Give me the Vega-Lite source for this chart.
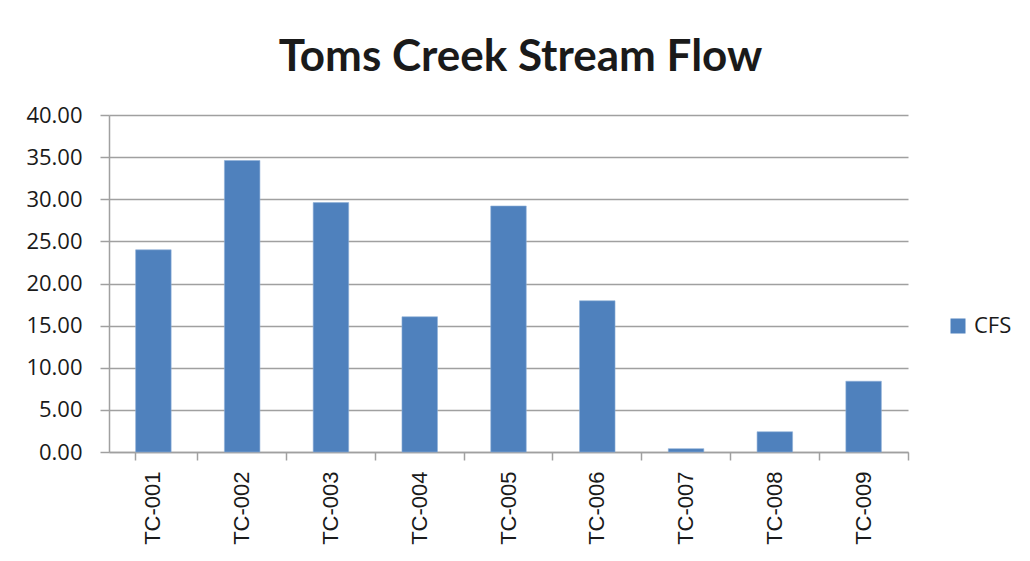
{
  "$schema": "https://vega.github.io/schema/vega-lite/v6.json",
  "width": 799,
  "height": 337,
  "autosize": {"type": "none"},
  "padding": {"left": 109, "top": 115, "right": 122, "bottom": 109},
  "background": "white",
  "title": {
    "text": "Toms Creek Stream Flow",
    "font": "Lato",
    "fontSize": 44,
    "fontWeight": "bold",
    "color": "#1a1a1a",
    "anchor": "middle",
    "dx": 12,
    "offset": 24
  },
  "data": {
    "values": [
      {"site": "TC-001", "cfs": 24.0, "series": "CFS"},
      {"site": "TC-002", "cfs": 34.6, "series": "CFS"},
      {"site": "TC-003", "cfs": 29.6, "series": "CFS"},
      {"site": "TC-004", "cfs": 16.05, "series": "CFS"},
      {"site": "TC-005", "cfs": 29.2, "series": "CFS"},
      {"site": "TC-006", "cfs": 17.95, "series": "CFS"},
      {"site": "TC-007", "cfs": 0.4, "series": "CFS"},
      {"site": "TC-008", "cfs": 2.4, "series": "CFS"},
      {"site": "TC-009", "cfs": 8.4, "series": "CFS"}
    ]
  },
  "mark": {"type": "bar", "stroke": "#8fb0d9", "strokeWidth": 0.6},
  "encoding": {
    "x": {
      "field": "site",
      "type": "nominal",
      "sort": null,
      "scale": {"paddingInner": 0.6, "paddingOuter": 0.3},
      "axis": {
        "title": null,
        "bandPosition": 1.75,
        "tickExtra": true,
        "labelAngle": -90,
        "labelAlign": "right",
        "labelBaseline": "middle",
        "labelFont": "Liberation Sans",
        "labelFontSize": 22,
        "labelColor": "#1a1a1a",
        "labelPadding": 11,
        "tickSize": 8,
        "tickColor": "#a0a0a0",
        "tickWidth": 1.5,
        "domainColor": "#a0a0a0",
        "domainWidth": 1.5,
        "grid": false
      }
    },
    "y": {
      "field": "cfs",
      "type": "quantitative",
      "scale": {"domain": [0, 40], "nice": false},
      "axis": {
        "title": null,
        "values": [0, 5, 10, 15, 20, 25, 30, 35, 40],
        "format": ".2f",
        "labelFont": "Open Sans",
        "labelFontSize": 22,
        "labelColor": "#1a1a1a",
        "labelPadding": 18,
        "tickSize": 9,
        "tickColor": "#a0a0a0",
        "tickWidth": 1.5,
        "domainColor": "#a0a0a0",
        "domainWidth": 1.5,
        "grid": true,
        "gridColor": "#a0a0a0",
        "gridWidth": 1.5
      }
    },
    "color": {
      "field": "series",
      "type": "nominal",
      "scale": {"range": ["#4f81bd"]},
      "legend": {
        "title": null,
        "orient": "none",
        "legendX": 838,
        "legendY": 200,
        "padding": 0,
        "symbolType": "square",
        "symbolSize": 225,
        "symbolStrokeWidth": 0,
        "labelFont": "Open Sans",
        "labelFontSize": 22,
        "labelColor": "#1a1a1a",
        "labelOffset": 5
      }
    }
  },
  "config": {
    "view": {"stroke": null}
  }
}
